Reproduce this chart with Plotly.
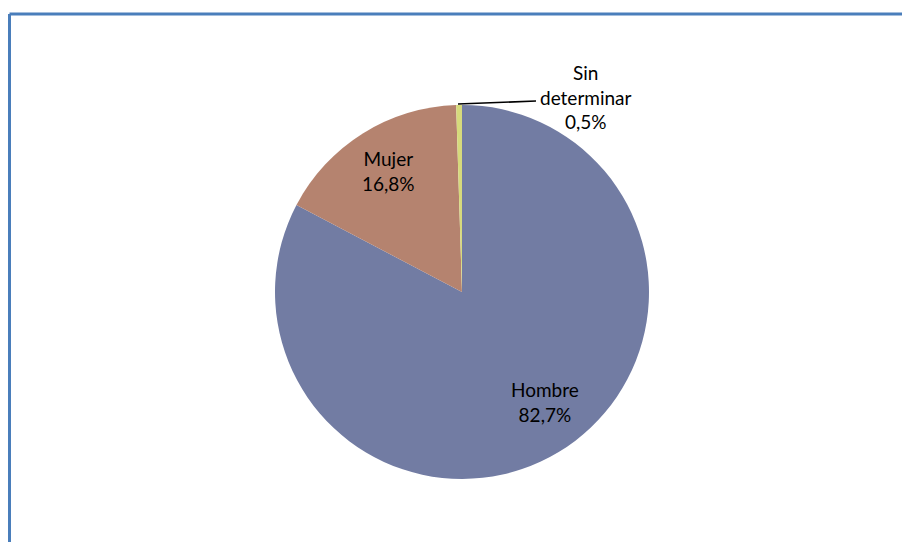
import plotly.graph_objects as go

# data
labels = ['Hombre', 'Mujer', 'Sin determinar']
values = [82.7, 16.8, 0.5]
colors = ['#727ca3', '#b5836f', '#d6da7c']

W, H = 902, 542

def fmt(v):
    return f'{v:.1f}'.replace('.', ',') + '%'

fig = go.Figure(go.Pie(
    labels=labels, values=values, sort=False, direction='clockwise', rotation=0,
    marker=dict(colors=colors, line=dict(width=0)),
    textinfo='none', hoverinfo='label+percent', showlegend=False,
    domain=dict(x=[(462 - 187) / W, (462 + 187) / W], y=[1 - 479 / H, 1 - 105 / H]),
))

# label positions (pixel centres), text from data
lab_pos = {'Hombre': (545, 402), 'Mujer': (388, 171), 'Sin determinar': (586, 97)}
annos = []
for lab, v in zip(labels, values):
    x, y = lab_pos[lab]
    txt = lab.replace(' ', '<br>') + '<br>' + fmt(v)
    annos.append(dict(x=x / W, y=1 - y / H, xref='paper', yref='paper', text=txt,
                      showarrow=False, xanchor='center', yanchor='middle',
                      font=dict(family='Lato, Open Sans, sans-serif', size=19, color='#000')))

shapes = [
    # leader line for the small slice
    dict(type='line', xref='paper', yref='paper', x0=458 / W, y0=1 - 104 / H, x1=536 / W, y1=1 - 101 / H,
         line=dict(color='#000', width=1.6)),
    # frame (top and left edges)
    dict(type='line', xref='paper', yref='paper', x0=9.5 / W, y0=1 - 14 / H, x1=1, y1=1 - 14 / H,
         line=dict(color='#4a7ebb', width=3)),
    dict(type='line', xref='paper', yref='paper', x0=9.5 / W, y0=1 - 14 / H, x1=9.5 / W, y1=0,
         line=dict(color='#4a7ebb', width=3)),
]

fig.update_layout(width=W, height=H, margin=dict(l=0, r=0, t=0, b=0),
                  paper_bgcolor='white', plot_bgcolor='white',
                  annotations=annos, shapes=shapes)

fig.write_html('out.html', config={'displayModeBar': False},
               post_script="document.body.style.margin='0';document.body.style.overflow='hidden';")
